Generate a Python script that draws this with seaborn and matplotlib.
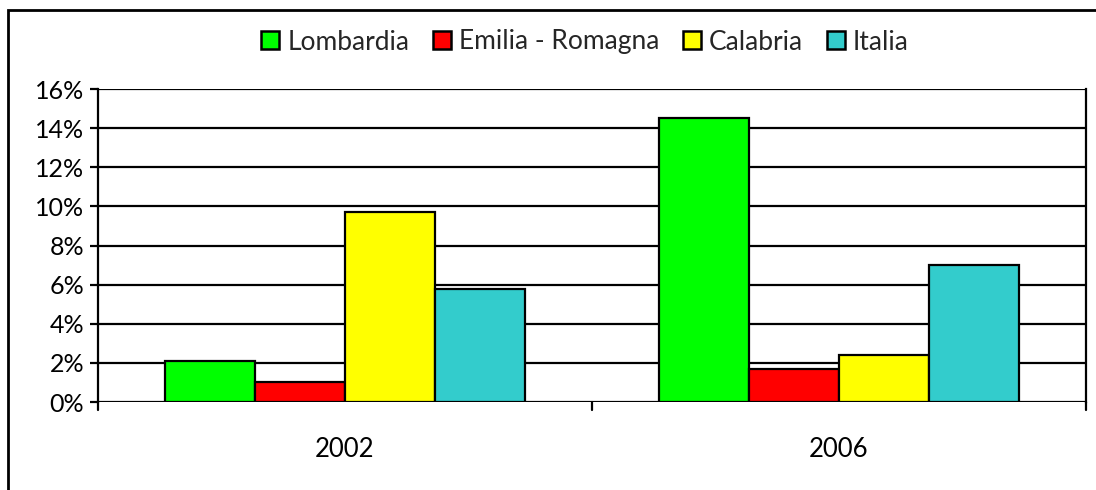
import matplotlib
matplotlib.use("Agg")
import matplotlib.pyplot as plt
import seaborn as sns
import pandas as pd
from matplotlib.patches import Rectangle, Patch

years = ["2002", "2006"]
regions = ["Lombardia", "Emilia - Romagna", "Calabria", "Italia"]
lombardia = [2.1, 14.5]
emilia = [1.0, 1.7]
calabria = [9.7, 2.4]
italia = [5.8, 7.0]
colors = ["#00FF00", "#FF0000", "#FFFF00", "#33CCCC"]
y_ticks = [0, 2, 4, 6, 8, 10, 12, 14, 16]

rows = []
for reg, vals in zip(regions, [lombardia, emilia, calabria, italia]):
    for yr, v in zip(years, vals):
        rows.append({"year": yr, "region": reg, "value": v})
df = pd.DataFrame(rows)

sns.set_theme(style="white")
plt.rcParams["font.family"] = ["Lato", "DejaVu Sans"]

fig = plt.figure(figsize=(10.96, 4.90), dpi=100)
ax = fig.add_axes([98/1096, 1-402/490, (1086-98)/1096, (402-89)/490])

sns.barplot(data=df, x="year", y="value", hue="region", order=years,
            hue_order=regions, palette=colors, width=0.73, ax=ax,
            edgecolor="black", linewidth=1.6, saturation=1, legend=False)

ax.set_ylim(0, 16)
ax.set_xlim(-0.5, 1.5)
ax.set_yticks(y_ticks)
ax.set_yticklabels([f"{t}%" for t in y_ticks], fontsize=18, color="black")
ax.set_xticks([0, 1])
ax.set_xticklabels(years, fontsize=18.5, color="black")
ax.tick_params(axis="x", length=0, pad=25)
ax.tick_params(axis="y", length=6, width=1.6, color="black", direction="out", left=True, pad=4)
ax.yaxis.grid(True, color="black", linewidth=1.6)
ax.set_axisbelow(True)
ax.set_xlabel("")
ax.set_ylabel("")
for s in ["top", "bottom"]:
    ax.spines[s].set_visible(False)
for s in ["left", "right"]:
    ax.spines[s].set_color("black")
    ax.spines[s].set_linewidth(1.6)
    ax.spines[s].set_bounds(0, 16)
# category boundary ticks on x axis
for xb in [-0.5, 0.5, 1.5]:
    ax.plot([xb, xb], [0, -0.42], color="black", lw=1.6, clip_on=False)

# outer border
fig.patches.append(Rectangle((8/1096, -0.2), 1.2, 1.2 - 10/490, transform=fig.transFigure,
                             fill=False, edgecolor="black", linewidth=2, zorder=10))

handles = [Patch(facecolor=c, edgecolor="black", linewidth=1.8) for c in colors]
fig.legend(handles, regions, loc="center", bbox_to_anchor=(585/1096, 1-42/490), ncol=4,
           frameon=False, fontsize=19, handlelength=0.68, handleheight=0.68,
           handletextpad=0.3, columnspacing=0.9, borderpad=0)

fig.savefig("out.png", dpi=100)
